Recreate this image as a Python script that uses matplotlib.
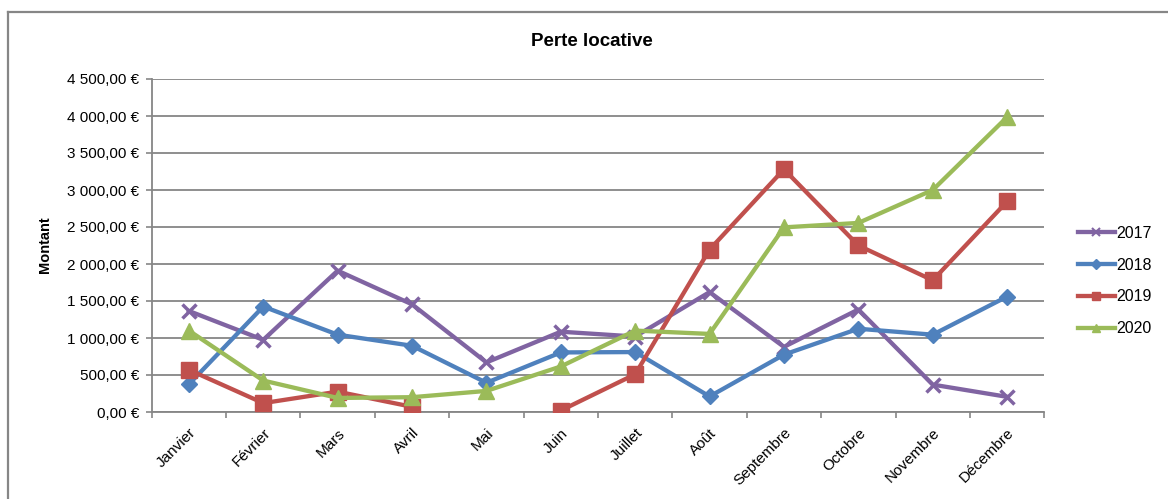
import matplotlib
matplotlib.use("Agg")
import matplotlib.pyplot as plt
import numpy as np
from matplotlib.lines import Line2D
from matplotlib.ticker import FuncFormatter, MultipleLocator, FixedLocator

plt.rcParams['font.family'] = ['Liberation Sans', 'DejaVu Sans']

months = ["Janvier", "Février", "Mars", "Avril", "Mai", "Juin", "Juillet",
          "Août", "Septembre", "Octobre", "Novembre", "Décembre"]
v2017 = [1365, 975, 1910, 1455, 670, 1085, 1020, 1620, 880, 1385, 370, 205]
v2018 = [375, 1425, 1045, 895, 395, 805, 810, 210, 775, 1125, 1045, 1560]
v2019 = [570, 120, 275, 70, np.nan, 20, 510, 2195, 3280, 2250, 1780, 2845]
v2020 = [1100, 425, 190, 200, 285, 615, 1100, 1055, 2495, 2555, 3000, 3985]

series = [("2017", v2017, "#8064A2", "x", 10),
          ("2018", v2018, "#4F81BD", "D", 8.5),
          ("2019", v2019, "#C0504D", "s", 11),
          ("2020", v2020, "#9BBB59", "^", 11)]

fig = plt.figure(figsize=(11.68, 4.99), dpi=100)
ax = fig.add_axes([151.7/1168, 1 - 412/499, (1044.3-151.7)/1168, (412-79)/499])

x = np.arange(len(months))
handles = []
for name, vals, col, mk, ms in series:
    ln, = ax.plot(x, vals, color=col, lw=3.1, marker=mk, markersize=ms,
                  markeredgewidth=2.5 if mk == "x" else 1, markeredgecolor=col,
                  markerfacecolor=col, label=name, zorder=3)
    handles.append(Line2D([], [], color=col, lw=3.1, marker=mk,
                          markersize=ms*0.55, markeredgewidth=1.5 if mk == "x" else 1,
                          markeredgecolor=col, markerfacecolor=col))

ax.set_xlim(-0.5, len(months) - 0.5)
ax.set_ylim(0, 4500)
ax.yaxis.set_major_locator(MultipleLocator(500))

def eur(v, pos):
    s = f"{v:,.2f}".replace(",", " ").replace(".", ",")
    return s + " €"
ax.yaxis.set_major_formatter(FuncFormatter(eur))

ax.set_xticks(x)
ax.set_xticklabels(months, rotation=45, ha="right", rotation_mode="anchor")
ax.xaxis.set_minor_locator(FixedLocator(np.arange(-0.5, len(months), 1.0)))
ax.tick_params(axis="x", which="major", length=0, pad=10, labelsize=11)
ax.tick_params(axis="x", which="minor", length=4, width=1.2, color="#868686", direction="out")
ax.tick_params(axis="y", length=4, width=1.2, color="#868686", pad=5, labelsize=11)

ax.grid(axis="y", color="#868686", lw=1.3, zorder=0)
ax.set_axisbelow(True)
for s in ["top", "right"]:
    ax.spines[s].set_visible(False)
for s in ["left", "bottom"]:
    ax.spines[s].set_color("#868686")
    ax.spines[s].set_linewidth(1.3)

fig.text(592/1168, 1 - 41/499, "Perte locative", ha="center", va="center",
         fontsize=13.5, fontweight="bold")
fig.text(45/1168, 1 - 245/499, "Montant", ha="center", va="center",
         rotation=90, fontsize=10.5, fontweight="bold")

fig.legend(handles, [s[0] for s in series], loc="center left",
           bbox_to_anchor=(1070/1168, 1 - 281/499), frameon=False,
           fontsize=11.5, handlelength=2.3, handletextpad=0.1, labelspacing=1.05,
           borderpad=0)

# outer frame
fig.add_artist(Line2D([8/1168, 8/1168], [0, 1 - 12/499], transform=fig.transFigure,
                      color="#868686", lw=1.6))
fig.add_artist(Line2D([8/1168, 1], [1 - 12/499, 1 - 12/499], transform=fig.transFigure,
                      color="#868686", lw=1.6))

fig.savefig("out.png", dpi=100)
